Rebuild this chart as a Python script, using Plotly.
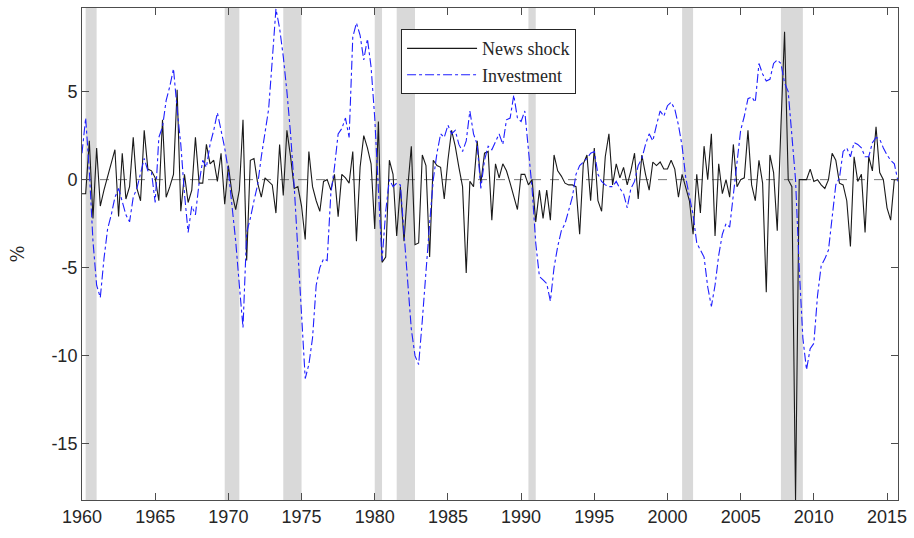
import numpy as np
import plotly.graph_objects as go

# Quarterly data, 1960Q1 - 2015Q4
start_year = 1960
news_shock = [
    -0.8, -0.8, 2.2, -2.2, 1.8, -1.5, -0.6, 0.2, 0.9, 1.7,
    -2.1, 1.5, -1.1, -0.4, 2.4, -0.5, -1.2, 2.8, 0.6, 0.5,
    0.1, -1.2, 3.4, -1.0, -0.4, 0.3, 5.1, -1.8, 0.3, -1.3,
    -0.6, 2.4, -0.2, -0.2, 2.0, 0.9, 1.1, -0.1, 1.5, -1.4,
    0.8, -0.8, -1.7, -0.6, 3.4, -4.6, 1.1, 1.2, -0.2, -1.0,
    0.1, -0.1, -0.3, -1.9, 2.0, -0.9, 2.8, 1.3, -0.5, -0.4,
    -1.5, -3.4, 1.6, -0.4, -1.2, -1.8, -0.1, 0.0, -0.6, 0.3,
    -2.1, 0.3, 0.1, -0.2, 1.6, -3.5, 0.7, 2.5, 1.8, 0.9,
    -2.8, 3.3, -4.7, -4.4, 1.1, 0.3, -3.2, -0.4, -3.5, -0.5,
    1.9, -3.7, -3.6, 1.4, 0.8, -4.4, 1.1, 0.8, 0.7, -1.1,
    1.1, 2.8, 1.9, 0.7, -0.4, -5.3, -0.1, -0.4, 2.2, -0.2,
    1.5, 1.6, -2.3, 0.9, 0.1, 0.9, 0.5, -0.2, -1.0, -1.7,
    0.3, 0.3, -0.3, 0.0, -2.4, -0.6, -2.2, -0.6, -2.3, 1.4,
    0.5, 0.2, -0.2, -0.3, -0.3, -0.4, -3.1, 0.9, 1.4, -1.2,
    1.8, -1.2, -1.8, 1.3, 2.6, -0.3, 0.9, 0.1, 0.7, -0.3,
    0.5, 1.5, -1.1, 1.4, 0.3, -0.6, 1.0, 0.8, 1.0, 0.6,
    0.6, 1.1, 0.6, -1.0, 0.3, -0.4, -1.2, -3.1, 0.3, -1.9,
    1.9, 0.0, 2.6, -3.2, 0.9, -0.8, 0.0, -1.0, 2.0, -0.4,
    0.0, 0.1, 2.8, -0.3, -1.2, 1.1, -0.2, -6.4, 1.4, 0.4,
    -2.9, 3.0, 8.4, 0.0, -0.4, -18.2, 0.0, 0.0, 0.0, 0.6,
    -0.1, 0.0, -0.3, -0.5, 0.0, 1.5, 1.1, -0.2, -0.3, -1.2,
    -3.8, 1.3, -0.1, 0.3, -3.0, 1.3, 0.5, 3.0, 0.4, 0.0,
    -1.6, -2.3, 0.0, 0.0,
]
investment = [
    1.5, 3.5, 0.5, -3.5,
    -6.0, -6.7, -4.5, -2.8,
    -2.0, -1.0, -0.5, -1.3,
    -2.0, -2.4, -1.0, -0.5,
    0.3, 1.2, 0.5, 0.4,
    -1.3, 2.4, 3.0, 4.5,
    5.3, 6.3, 4.0, 2.0,
    -0.8, -3.0, -1.5, -2.0,
    -0.2, 1.1, 0.7, 2.0,
    2.8, 3.8, 2.8, 1.8,
    0.5, -1.5, -3.5, -6.0,
    -8.4, -3.0, -2.2, -1.2,
    -0.3, 1.3, 2.6, 4.0,
    6.8, 9.7, 8.6, 7.0,
    5.0, 2.6, -0.4, -4.0,
    -7.5, -11.3, -10.5, -9.0,
    -6.0, -5.0, -4.5, -4.6,
    -0.8, 0.7, 2.6, 2.9,
    3.5, 2.4, 8.1, 8.9,
    8.2, 6.8, 8.0, 6.4,
    3.5, -0.4, -4.6, -1.8,
    0.0, -0.4, -0.2, -0.3,
    -3.0, -5.9, -8.5, -10.0,
    -10.5, -8.0, -5.0, -2.5,
    0.0, 1.5, 2.6, 2.4,
    3.1, 2.6, 2.8, 2.0,
    1.6, 2.2, 3.9, 2.6,
    2.0, -0.5, 1.1, 1.9,
    1.7, 2.2, 2.6, 2.0,
    3.4, 3.5, 4.8, 3.5,
    3.3, 3.9, 1.7, -0.5,
    -3.6, -5.5, -5.7, -5.9,
    -6.9, -5.0, -3.8, -2.9,
    -2.5, -1.8, -1.0, 0.3,
    0.8, 1.0, 1.2, 1.5,
    1.6, 0.3, -0.1, -0.3,
    -0.4, -0.4, -0.1, -0.5,
    -0.8, -1.6, -0.5, -0.1,
    0.8, 1.2, 2.0, 2.6,
    2.2, 3.1, 3.9, 3.6,
    4.2, 4.4, 4.0, 3.1,
    1.9, 0.1, -1.0, -2.0,
    -3.6, -4.0, -4.4, -6.1,
    -7.2, -6.0, -4.3, -3.1,
    -2.5, -2.7, -0.8, 0.9,
    2.8, 3.6, 4.6, 4.7,
    4.4, 6.6, 6.0, 5.6,
    5.7, 6.6, 6.8, 6.6,
    5.5, 5.0, 2.6, 0.0,
    -5.0, -9.0, -10.8, -9.6,
    -9.3, -6.6, -4.9, -4.5,
    -4.0, -2.1, -0.3, 0.1,
    1.6, 1.8, 1.3, 2.1,
    2.0, 1.8, 1.3, 1.3,
    2.1, 2.4, 2.3, 1.8,
    1.4, 1.1, 0.9, -0.1,
]
# NBER recessions (start, end) in fractional years
rec_start = [1960.25, 1969.75, 1973.75, 1980.0, 1981.5, 1990.5, 2001.0, 2007.75]
rec_end = [1961.0, 1970.75, 1975.0, 1980.5, 1982.75, 1991.0, 2001.75, 2009.25]

x_ticks = [1960, 1965, 1970, 1975, 1980, 1985, 1990, 1995, 2000, 2005, 2010, 2015]
y_ticks = [-15, -10, -5, 0, 5]
y_labels = ["-15", "-10", "-5", "0", "5"]

dates = start_year + np.arange(len(news_shock)) / 4.0

fig = go.Figure()
fig.add_trace(go.Scatter(x=dates, y=news_shock, mode="lines", name="News shock",
                         line=dict(color="#1a1a1a", width=1.1)))
fig.add_trace(go.Scatter(x=dates, y=investment, mode="lines", name="Investment",
                         line=dict(color="#1f1fff", width=1.1, dash="dashdot")))

shapes = []
for s, e in zip(rec_start, rec_end):
    shapes.append(dict(type="rect", xref="x", yref="paper", x0=s, x1=e, y0=0, y1=1,
                       fillcolor="#d9d9d9", line=dict(width=0), layer="below"))
shapes.append(dict(type="line", xref="paper", yref="y", x0=0, x1=1, y0=0, y1=0,
                   line=dict(color="#555555", width=0.8, dash="dash"), layer="below"))
fig.update_layout(shapes=shapes)

axis_common = dict(showline=True, linecolor="#4d4d4d", linewidth=1, mirror="ticks",
                   ticks="inside", ticklen=7, tickcolor="#4d4d4d", tickwidth=1,
                   showgrid=False, zeroline=False,
                   tickfont=dict(family="Liberation Sans, Arial", size=18, color="#262626"))
fig.update_xaxes(range=[1960, 2015.75], tickvals=x_ticks, **axis_common)
fig.update_yaxes(range=[-18.2, 9.75], tickvals=y_ticks, ticktext=y_labels,
                 title=dict(text="%", font=dict(family="DejaVu Serif", size=18, color="#262626"),
                            standoff=22),
                 **axis_common)

fig.update_layout(
    width=914, height=538,
    margin=dict(l=82, r=12, t=7, b=38),
    plot_bgcolor="white", paper_bgcolor="white",
    legend=dict(x=0.391, y=0.957, xanchor="left", yanchor="top",
                bgcolor="white", bordercolor="#262626", borderwidth=1,
                itemwidth=70,
                font=dict(family="Liberation Serif, DejaVu Serif", size=18, color="#262626"),
                tracegroupgap=0),
    showlegend=True,
)

fig.write_html("out.html")
